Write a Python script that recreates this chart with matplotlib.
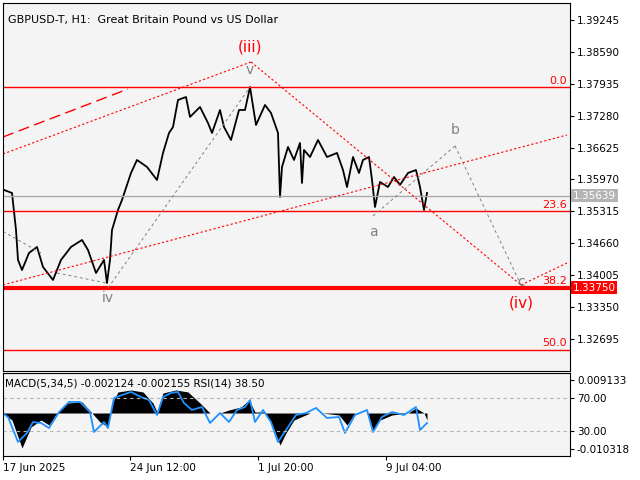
import matplotlib
matplotlib.use("Agg")
import matplotlib.pyplot as plt
from matplotlib.transforms import blended_transform_factory as blend

# price path (bar index, price)
px = [4, 12, 16, 18, 22, 29, 37, 43, 53, 61, 71, 82, 88, 96, 104, 107, 110, 112, 118, 122,
      131, 137, 147, 157, 163, 169, 173, 178, 186, 190, 200, 208, 212, 220, 224, 231, 239, 245,
      250, 256, 265, 271, 278, 280, 282, 288, 294, 300, 302, 304, 310, 318, 327, 337, 343, 347,
      353, 359, 363, 369, 372, 375, 380, 388, 394, 400, 408, 416, 420, 424, 427]
py = [1.35755, 1.35693, 1.34934, 1.34318, 1.34112, 1.34462, 1.34585, 1.34174, 1.33907, 1.34318,
      1.34585, 1.34728, 1.34523, 1.34051, 1.34318, 1.33846, 1.34318, 1.34934, 1.35344, 1.35550,
      1.36104, 1.36371, 1.36227, 1.35960, 1.36515, 1.36925, 1.37048, 1.37603, 1.37664, 1.37254,
      1.37459, 1.37130, 1.36925, 1.37397, 1.37048, 1.36781, 1.37397, 1.37397, 1.37869, 1.37089,
      1.37500, 1.37336, 1.36925, 1.35611, 1.36227, 1.36638, 1.36371, 1.36720, 1.35899, 1.36576,
      1.36432, 1.36781, 1.36432, 1.36515, 1.36165, 1.35816, 1.36432, 1.36104, 1.36371, 1.36432,
      1.35960, 1.35406, 1.35919, 1.35816, 1.36022, 1.35858, 1.36104, 1.36165, 1.35816, 1.35344,
      1.35693]

fib_levels = [1.37870, 1.35324, 1.33750, 1.32470]
fib_names = ["0.0", "23.6", "38.2", "50.0"]
last_price = 1.35639
yticks = [1.39245, 1.38590, 1.37935, 1.37280, 1.36625, 1.35970, 1.35315,
          1.34660, 1.34005, 1.33350, 1.32695]

# red dotted channel / wave lines: (x0, y0, x1, y1)
red_lines = [(3, 1.36494, 251, 1.38383), (251, 1.38383, 521, 1.33805),
             (3, 1.33805, 567, 1.36884), (521, 1.33805, 567, 1.34256)]
gray_lines = [(108, 1.33743, 250, 1.37869), (373, 1.35221, 455, 1.36658),
              (455, 1.36658, 521, 1.33805), (3, 1.34903, 41, 1.34462),
              (57, 1.34051, 106, 1.33846)]
waves = [("(iii)", 250, 1.38691, "red", 11), ("v", 250, 1.38219, "gray", 10),
         ("iv", 108, 1.33538, "gray", 10), ("a", 373, 1.34893, "gray", 10),
         ("b", 455, 1.36987, "gray", 10), ("c", 521, 1.33866, "gray", 10),
         ("(iv)", 521, 1.33435, "red", 11)]

mx = [3, 12, 22, 31, 41, 49, 57, 67, 82, 92, 100, 108, 112, 118, 131, 143, 153, 157, 163, 176,
      188, 200, 210, 220, 229, 241, 249, 255, 265, 273, 280, 286, 294, 310, 322, 339, 347, 355,
      367, 373, 380, 392, 408, 416, 424, 427]
mv = [51.8, 43.3, 9.4, 34.8, 43.3, 37.3, 51.8, 63.9, 65.2, 51.8, 40.9, 34.8, 63.9, 77.3, 79.7,
      77.3, 63.9, 53.0, 76.1, 79.7, 77.3, 63.9, 51.8, 51.8, 55.5, 59.1, 67.6, 53.0, 53.0, 34.8,
      13.0, 27.6, 43.3, 51.8, 51.8, 49.4, 37.3, 51.8, 51.8, 31.2, 43.3, 49.4, 51.8, 57.9, 51.8,
      43.3]
rx = [2, 8, 18, 27, 33, 41, 49, 59, 69, 80, 90, 94, 104, 108, 114, 122, 131, 141, 149, 157,
      163, 171, 178, 184, 192, 202, 210, 220, 229, 237, 245, 250, 255, 263, 271, 278, 286, 296,
      306, 316, 327, 339, 345, 355, 367, 373, 382, 392, 404, 416, 420, 427]
rv = [51.8, 47.0, 16.7, 27.6, 40.9, 39.7, 33.6, 53.0, 65.2, 65.2, 53.0, 28.8, 40.9, 33.6, 70.0,
      73.6, 77.3, 71.2, 67.6, 49.4, 71.2, 76.1, 77.3, 63.9, 55.5, 59.1, 39.7, 51.8, 40.9, 55.5,
      59.1, 67.6, 40.9, 55.5, 40.9, 16.7, 31.2, 49.4, 51.8, 57.9, 45.8, 47.0, 27.6, 49.4, 55.5,
      28.8, 47.0, 53.0, 49.4, 59.1, 31.2, 39.7]
date_pos = [3, 130, 258, 386]
date_labels = ["17 Jun 2025", "24 Jun 12:00", "1 Jul 20:00", "9 Jul 04:00"]

plt.rcParams['font.family'] = ['DejaVu Sans']
plt.rcParams['font.size'] = 7.5
fig = plt.figure(figsize=(6.4, 4.8), dpi=100)
bg = "#f4f4f4"
ax = fig.add_axes([3/640, 1-371/480, 567/640, 368/480], facecolor=bg)
ax2 = fig.add_axes([3/640, 1-456/480, 567/640, 83/480], facecolor=bg)
for a in (ax, ax2):
    a.set_xlim(3, 570)
    a.yaxis.tick_right()
    a.tick_params(axis="y", length=3, pad=2, labelsize=7.5)
ax.set_ylim(1.32038, 1.39594)
ax.set_xticks([])
ax.set_yticks(yticks)
ax.set_yticklabels(["%.5f" % t for t in yticks])

ax.plot(px, py, color="black", lw=1.3)
for lv, nm in zip(fib_levels, fib_names):
    ax.axhline(lv, color="red", lw=3 if nm == "38.2" else 1)
    ax.text(567, lv + 0.0003, nm, color="red", ha="right", va="bottom", fontsize=8)
ax.axhline(last_price, color="#aaaaaa", lw=1)
ax.plot([3, 128], [1.36843, 1.37828], color="red", lw=1, ls=(0, (8, 4)))
for x0, y0, x1, y1 in red_lines:
    ax.plot([x0, x1], [y0, y1], color="red", lw=0.8, ls=(0, (2, 2)))
for x0, y0, x1, y1 in gray_lines:
    ax.plot([x0, x1], [y0, y1], color="gray", lw=0.7, ls=(0, (3, 3)))
for t, x, y, c, fs in waves:
    ax.text(x, y, t, color=c, ha="center", va="center", fontsize=fs)
ax.text(8, 1.3925, "GBPUSD-T, H1:  Great Britain Pound vs US Dollar", fontsize=8, va="center")
tr = blend(ax.transAxes, ax.transData)
ax.text(1.005, last_price, "1.35639", transform=tr, color="white", va="center", fontsize=7.5,
        bbox=dict(boxstyle="square,pad=0.15", fc="#b4b4b4", ec="none"))
ax.text(1.005, fib_levels[2], "1.33750", transform=tr, color="white", va="center", fontsize=7.5,
        bbox=dict(boxstyle="square,pad=0.15", fc="red", ec="none"))

ax2.set_ylim(-0.3, 100.3)
ax2.fill_between(mx, 51.8, mv, color="black", lw=0)
ax2.plot(rx, rv, color="#1e90ff", lw=1.3)
for lv in (70, 30):
    ax2.axhline(lv, color="#b4b4b4", lw=0.8, ls=(0, (3, 3)))
ax2.set_yticks([92, 70, 30, 8])
ax2.set_yticklabels(["0.009133", "70.00", "30.00", "-0.010318"])
ax2.set_xticks(date_pos)
ax2.set_xticklabels(date_labels, ha="left")
ax2.tick_params(axis="x", length=3, pad=2, labelsize=7.5)
ax2.text(5, 88, "MACD(5,34,5) -0.002124 -0.002155 RSI(14) 38.50", fontsize=7.5, va="center")

fig.savefig("out.png", dpi=100, facecolor="white")
